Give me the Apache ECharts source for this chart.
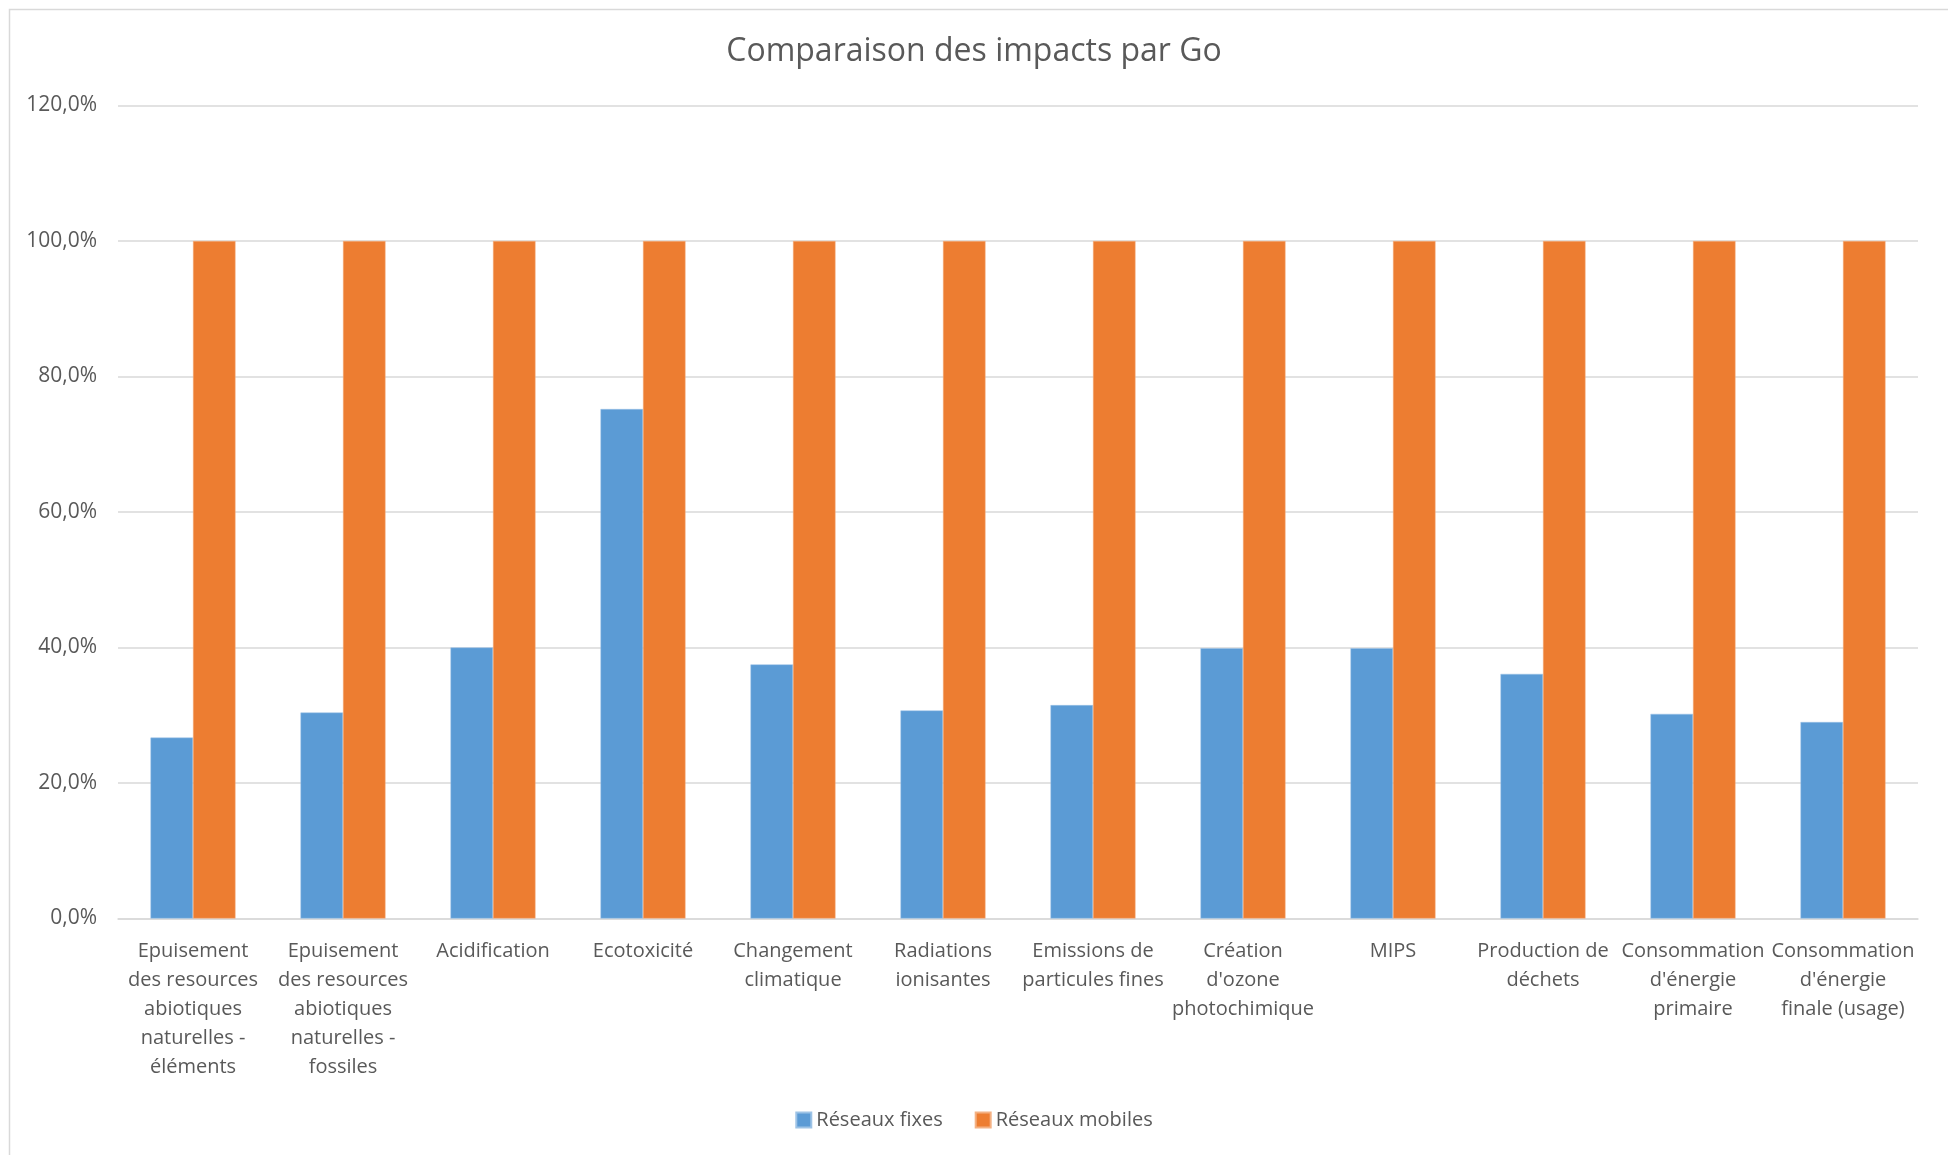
<!DOCTYPE html>
<html>
<head>
<meta charset="utf-8">
<script src="https://cdn.jsdelivr.net/npm/echarts@6/dist/echarts.min.js"></script>
<style>html,body{margin:0;padding:0;background:#fff;}#c{width:1948px;height:1155px;}</style>
</head>
<body>
<div id="c"></div>
<script>
const categories = [
  "Epuisement\ndes resources\nabiotiques\nnaturelles -\néléments",
  "Epuisement\ndes resources\nabiotiques\nnaturelles -\nfossiles",
  "Acidification",
  "Ecotoxicité",
  "Changement\nclimatique",
  "Radiations\nionisantes",
  "Emissions de\nparticules fines",
  "Création\nd'ozone\nphotochimique",
  "MIPS",
  "Production de\ndéchets",
  "Consommation\nd'énergie\nprimaire",
  "Consommation\nd'énergie\nfinale (usage)"
];
const fixes = [26.7, 30.4, 40.0, 75.2, 37.5, 30.7, 31.5, 39.9, 39.9, 36.1, 30.2, 29.0];
const mobiles = [100, 100, 100, 100, 100, 100, 100, 100, 100, 100, 100, 100];
const seriesNames = ["Réseaux fixes", "Réseaux mobiles"];
const titleText = "Comparaison des impacts par Go";

const FONT = "'Open Sans', 'Noto Sans', sans-serif";
const TXT = "#595959";
const chart = echarts.init(document.getElementById('c'), null, {renderer: 'canvas'});
chart.setOption({
  backgroundColor: '#fff',
  animation: false,
  graphic: [{
    type: 'rect', left: 7, top: 7, shape: {width: 1940, height: 1160},
    style: {fill: 'none', stroke: '#D9D9D9', lineWidth: 1.5}, silent: true
  }],
  title: {
    text: titleText, left: 'center', top: 31,
    textStyle: {fontFamily: FONT, fontSize: 32, fontWeight: 'normal', color: TXT}
  },
  legend: {
    bottom: 20, left: 'center', itemWidth: 15, itemHeight: 15, itemGap: 32,
    icon: 'rect',
    textStyle: {fontFamily: FONT, fontSize: 20, color: TXT}
  },
  grid: {left: 118, right: 30, top: 105.5, bottom: 236.5},
  xAxis: {
    type: 'category', data: categories,
    axisLine: {lineStyle: {color: '#D9D9D9', width: 1.5}},
    axisTick: {show: false},
    axisLabel: {interval: 0, margin: 18, fontFamily: FONT, fontSize: 20, color: TXT, lineHeight: 29}
  },
  yAxis: {
    type: 'value', min: 0, max: 120, interval: 20,
    axisLine: {show: false}, axisTick: {show: false},
    splitLine: {lineStyle: {color: '#D9D9D9', width: 1.5}},
    axisLabel: {margin: 21, fontFamily: FONT, fontSize: 21, color: TXT,
      formatter: v => v.toFixed(1).replace('.', ',') + '%'}
  },
  series: [
    {name: seriesNames[0], type: 'bar', data: fixes, barWidth: 42.5, barGap: '0%',
     itemStyle: {color: '#5B9BD5', borderColor: '#9DC3E6', borderWidth: 0.5}},
    {name: seriesNames[1], type: 'bar', data: mobiles, barWidth: 42.5, barGap: '0%',
     itemStyle: {color: '#ED7D31', borderColor: '#F4B183', borderWidth: 0.5}}
  ]
});
</script>
</body>
</html>
